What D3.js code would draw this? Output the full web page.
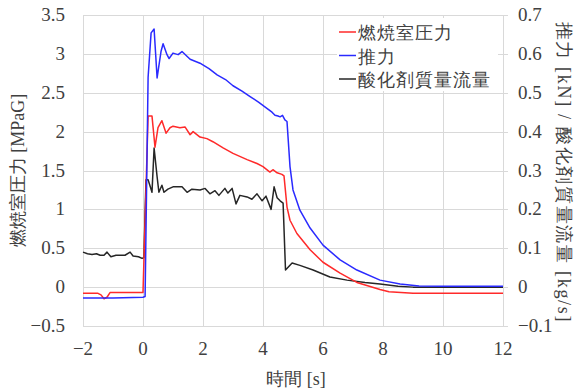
<!DOCTYPE html>
<html>
<head>
<meta charset="utf-8">
<script src="https://cdn.jsdelivr.net/npm/d3@7"></script>
<style>
  body { margin: 0; background: #fff; }
</style>
</head>
<body>
<div id="chart"></div>
<script>
// x ticks and axis ticks
const xTicks = [-2, 0, 2, 4, 6, 8, 10, 12];
const leftTicks = [-0.5, 0, 0.5, 1, 1.5, 2, 2.5, 3, 3.5];
const rightTicks = [-0.1, 0, 0.1, 0.2, 0.3, 0.4, 0.5, 0.6, 0.7];

// 燃焼室圧力 [MPaG] (left axis)
const pressureTime = [-2, -1.5, -1.4, -1.3, -1.2, -1.1, -0.5, 0.0, 0.17, 0.3, 0.4, 0.5, 0.63, 0.77, 0.9, 1.0, 1.23, 1.4, 1.57, 1.67, 1.9, 2.13, 2.33, 2.67, 3.0, 3.47, 3.8, 4.0, 4.23, 4.33, 4.47, 4.63, 4.7, 4.8, 4.9, 5.13, 5.57, 6.0, 6.57, 7.13, 7.9, 8.2, 9.0, 10, 12];
const pressureVals = [-0.08, -0.08, -0.10, -0.15, -0.13, -0.07, -0.07, -0.07, 2.2, 2.2, 1.8, 2.05, 2.14, 1.98, 2.05, 2.07, 2.05, 2.06, 1.96, 2.0, 1.93, 1.91, 1.87, 1.79, 1.72, 1.64, 1.59, 1.55, 1.48, 1.51, 1.47, 1.45, 1.43, 1.03, 0.86, 0.69, 0.48, 0.32, 0.18, 0.06, -0.03, -0.06, -0.08, -0.08, -0.08];

// 推力 [kN] (right axis)
const thrustTime = [-2, -1, 0, 0.07, 0.17, 0.27, 0.37, 0.47, 0.6, 0.67, 0.8, 0.87, 1.0, 1.17, 1.3, 1.57, 1.9, 2.2, 2.47, 2.75, 3.0, 3.3, 3.57, 3.85, 4.13, 4.3, 4.4, 4.5, 4.57, 4.65, 4.73, 4.8, 4.9, 5.0, 5.23, 5.57, 6.0, 6.57, 7.13, 7.9, 8.57, 9.2, 10, 11, 12];
const thrustVals = [-0.028, -0.028, -0.026, -0.024, 0.54, 0.654, 0.664, 0.538, 0.606, 0.626, 0.598, 0.588, 0.602, 0.598, 0.606, 0.586, 0.576, 0.562, 0.546, 0.534, 0.518, 0.504, 0.49, 0.476, 0.46, 0.45, 0.442, 0.44, 0.438, 0.442, 0.43, 0.426, 0.31, 0.25, 0.198, 0.152, 0.108, 0.07, 0.044, 0.018, 0.008, 0.003, 0.002, 0.002, 0.002];

// 酸化剤質量流量 [kg/s] (right axis)
const oxTime = [-2, -1.85, -1.7, -1.55, -1.43, -1.3, -1.2, -1.07, -0.9, -0.6, -0.43, -0.33, -0.15, -0.03, 0.03, 0.1, 0.17, 0.3, 0.37, 0.47, 0.53, 0.63, 0.7, 0.83, 1.0, 1.3, 1.47, 1.63, 1.9, 2.07, 2.23, 2.4, 2.53, 2.73, 2.83, 2.97, 3.1, 3.23, 3.47, 3.63, 3.8, 3.97, 4.1, 4.27, 4.37, 4.47, 4.57, 4.67, 4.75, 4.97, 5.23, 5.67, 6.23, 6.8, 7.4, 7.9, 8.5, 9, 10, 12];
const oxVals = [0.09, 0.086, 0.084, 0.086, 0.082, 0.082, 0.09, 0.078, 0.082, 0.082, 0.09, 0.08, 0.078, 0.074, 0.076, 0.276, 0.276, 0.244, 0.358, 0.284, 0.244, 0.262, 0.244, 0.252, 0.258, 0.258, 0.244, 0.252, 0.25, 0.254, 0.24, 0.248, 0.236, 0.254, 0.242, 0.254, 0.214, 0.236, 0.232, 0.226, 0.24, 0.222, 0.234, 0.2, 0.258, 0.23, 0.222, 0.216, 0.044, 0.062, 0.056, 0.044, 0.026, 0.018, 0.012, 0.008, 0.002, 0, 0, 0];

const legendNames = ["燃焼室圧力", "推力", "酸化剤質量流量"];
const colors = ["#ff2a2a", "#2a2aff", "#262626"];

const width = 577, height = 392;
const margin = { top: 15, right: 74, bottom: 66, left: 83 };
const plotW = width - margin.left - margin.right;
const plotH = height - margin.top - margin.bottom;

const svg = d3.select("#chart").append("svg")
    .attr("width", width)
    .attr("height", height);

const x = d3.scaleLinear().domain([-2, 12]).range([margin.left, margin.left + plotW]);
const yL = d3.scaleLinear().domain([-0.5, 3.5]).range([margin.top + plotH, margin.top]);
const yR = d3.scaleLinear().domain([-0.1, 0.7]).range([margin.top + plotH, margin.top]);

// grid
const grid = svg.append("g").attr("stroke", "#d9d9d9").attr("stroke-width", 1);
grid.selectAll(".hg").data(leftTicks).enter().append("line")
    .attr("x1", margin.left).attr("x2", margin.left + plotW + 5)
    .attr("y1", d => Math.round(yL(d)) + 0.5).attr("y2", d => Math.round(yL(d)) + 0.5);
grid.selectAll(".vg").data(xTicks).enter().append("line")
    .attr("y1", margin.top).attr("y2", margin.top + plotH)
    .attr("x1", d => Math.round(x(d)) + 0.5).attr("x2", d => Math.round(x(d)) + 0.5);

// tick labels
function label(sel, size = 18) {
    return sel.style("font-family", "Liberation Serif")
        .attr("font-size", size).attr("fill", "#404040");
}
const fmt = d3.format("");
label(svg.selectAll(".lt").data(leftTicks).enter().append("text"), 19)
    .attr("x", 65).attr("y", d => yL(d) + 6)
    .attr("text-anchor", "end")
    .text(d => fmt(d));
label(svg.selectAll(".rt").data(rightTicks).enter().append("text"), 19)
    .attr("x", 518).attr("y", d => yR(d) + 6)
    .attr("text-anchor", "start")
    .text(d => fmt(d));
label(svg.selectAll(".xt").data(xTicks).enter().append("text"), 19)
    .attr("x", d => x(d)).attr("y", 355)
    .attr("text-anchor", "middle")
    .text(d => fmt(d));

// titles
label(svg.append("text"))
    .attr("transform", `translate(296,385)`)
    .attr("text-anchor", "middle")
    .text("時間 [s]");
label(svg.append("text"))
    .attr("transform", `translate(24,${margin.top + plotH / 2}) rotate(-90)`)
    .attr("text-anchor", "middle")
    .text("燃焼室圧力 [MPaG]");
label(svg.append("text"))
    .attr("transform", `translate(558,${margin.top + plotH / 2 + 1}) rotate(90)`)
    .attr("text-anchor", "middle")
    .attr("textLength", 300).attr("lengthAdjust", "spacing")
    .text("推力 [kN] / 酸化剤質量流量 [kg/s]");

// series
const series = [
    { t: pressureTime, v: pressureVals, y: yL, color: colors[0] },
    { t: thrustTime, v: thrustVals, y: yR, color: colors[1] },
    { t: oxTime, v: oxVals, y: yR, color: colors[2] }
];
const plot = svg.append("g");
[series[2], series[0], series[1]].forEach(s => {
    const line = d3.line()
        .x((d, i) => x(s.t[i]))
        .y(d => s.y(d));
    plot.append("path")
        .attr("d", line(s.v))
        .attr("fill", "none")
        .attr("stroke", s.color)
        .attr("stroke-width", 1.5)
        .attr("stroke-linejoin", "round");
});

// legend
const legend = svg.append("g");
legend.append("rect")
    .attr("x", 337).attr("y", 18).attr("width", 161).attr("height", 73)
    .attr("fill", "#fff");
legendNames.forEach((name, i) => {
    const yy = 32 + i * 23.5;
    legend.append("line")
        .attr("x1", 339).attr("x2", 356)
        .attr("y1", yy).attr("y2", yy)
        .attr("stroke", colors[i]).attr("stroke-width", 1.5);
    label(legend.append("text"))
        .attr("x", 358).attr("y", yy + 7)
        .attr("letter-spacing", 1)
        .text(name);
});
</script>
</body>
</html>
